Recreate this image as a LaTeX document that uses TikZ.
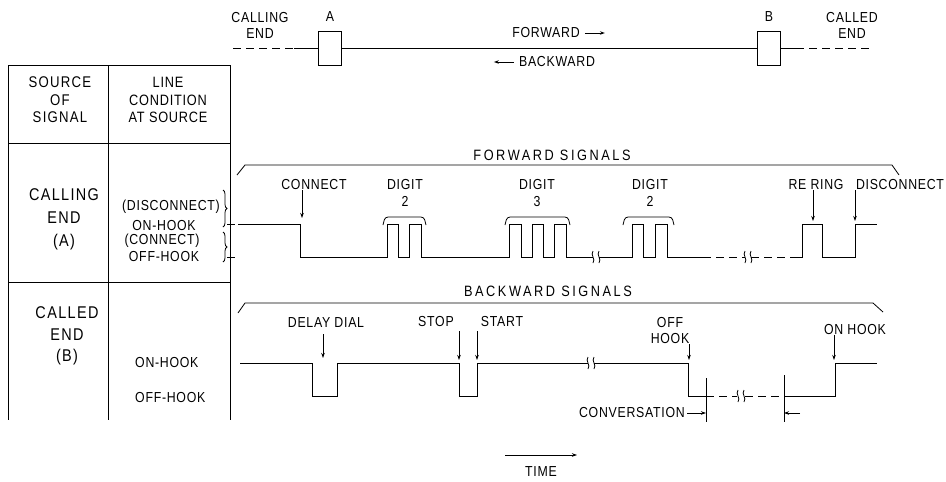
\documentclass[tikz,border=0pt]{standalone}
\usepackage{fontspec}
\setmainfont{Liberation Sans}[LetterSpace=5, FakeStretch=0.85]
\newfontfamily\widefont{Liberation Sans}[LetterSpace=17, FakeStretch=0.85]
\newfontfamily\bigfont{Liberation Sans}[LetterSpace=8, FakeStretch=0.85]
\usetikzlibrary{arrows.meta,decorations.pathreplacing}
\begin{document}
\begin{tikzpicture}[x=1pt,y=-1pt,
  lbl/.style={font=\fontsize{14.5}{16}\selectfont, inner sep=0pt, align=center},
  hdr/.style={font=\widefont\fontsize{15}{16}\selectfont, inner sep=0pt},
  thin/.style={line width=0.8pt},
  wave/.style={line width=1pt},
  arr/.style={-{Stealth[length=5pt,width=3.5pt]}, line width=0.8pt},
  dsh/.style={line width=1pt, dash pattern=on 8pt off 5pt},
  brk/.pic={\draw[line width=0.8pt] (-3,-6) .. controls (-6,-2) and (0,2) .. (-3,6);
            \draw[line width=0.8pt] (3,-6) .. controls (0,-2) and (6,2) .. (3,6);},
]
\useasboundingbox (0,0) rectangle (946,482);

% ---------- top line diagram ----------
\node[lbl] (calling) at (260,25) {CALLING\\END};
\node[lbl] (Alab) at (330,17) {A};
\node[draw, thin, minimum width=23pt, minimum height=34pt, inner sep=0pt] (boxA) at (330,48) {};
\node[lbl] (Blab) at (769,17) {B};
\node[draw, thin, minimum width=23pt, minimum height=34pt, inner sep=0pt] (boxB) at (769,48) {};
\node[lbl] (called) at (852,25) {CALLED\\END};
\coordinate (ldash) at (233,48);
\coordinate (lsol) at (294,48);
\coordinate (rsol) at (796,48);
\coordinate (rdash) at (872,48);
\draw[dsh] (ldash) -- (lsol);
\draw[wave] (lsol) -- (boxA.west);
\draw[wave] (boxA.east) -- (boxB.west);
\draw[wave] (boxB.east) -- (rsol);
\draw[dsh] (rsol) -- (rdash);
\node[lbl] (fwd) at (546,33) {FORWARD};
\draw[arr] ([xshift=5pt]fwd.east) -- ([xshift=25pt]fwd.east);
\node[lbl] (bwd) at (557,62) {BACKWARD};
\draw[arr] ([xshift=-5pt]bwd.west) -- ([xshift=-25pt]bwd.west);

% ---------- table ----------
\draw[thin] (8,65) -- (230,65);
\draw[thin] (8,143) -- (230,143);
\draw[thin] (8,282) -- (230,282);
\draw[thin] (8,65) -- (8,420);
\draw[thin] (108,65) -- (108,420);
\draw[thin] (230,65) -- (230,420);
\node[lbl, font=\bigfont\fontsize{15.5}{17.5}\selectfont] (src) at (60,100) {SOURCE\\OF\\SIGNAL};
\node[lbl, font=\fontsize{15}{17.5}\selectfont] (cond) at (168,100) {LINE\\CONDITION\\AT SOURCE};
\node[lbl, font=\bigfont\fontsize{17}{23}\selectfont] (callA) at (64,219) {CALLING\\END\\(A)};
\node[lbl] (disc) at (171,207) {(DISCONNECT)};
\node[lbl] (onA) at (164,226) {ON-HOOK};
\node[lbl] (connA) at (162,241) {(CONNECT)};
\node[lbl] (offA) at (164,257) {OFF-HOOK};
\draw[thin, decorate, decoration={brace, amplitude=4pt}] (223,190) -- (223,227);
\draw[thin, decorate, decoration={brace, amplitude=4pt}] (223,232) -- (223,262);
\draw[thin] (227,224) -- (235,224);
\draw[thin] (227,257) -- (235,257);
\node[lbl, font=\bigfont\fontsize{17}{21.5}\selectfont] (callB) at (67,336) {CALLED\\END\\(B)};
\node[lbl, anchor=west] (onB) at (135,363) {ON-HOOK};
\node[lbl, anchor=west] (offB) at (135,398) {OFF-HOOK};

% ---------- forward signals ----------
\node[hdr] (fs) at (552,155) {FORWARD SIGNALS};
\draw[thin] (237,175) -- (245,165) -- (892,165) -- (899,175);
\draw[wave] (238,224) -- (300,224) -- (300,257) -- (387,257) -- (387,224) -- (398,224)
  -- (398,257) -- (409,257) -- (409,224) -- (421,224) -- (421,257) -- (509,257)
  -- (509,224) -- (521,224) -- (521,257) -- (532,257) -- (532,224) -- (543,224)
  -- (543,257) -- (554,257) -- (554,224) -- (566,224) -- (566,257) -- (593,257);
\pic at (596,257) {brk};
\draw[wave] (599,257) -- (632,257) -- (632,224) -- (643,224) -- (643,257) -- (655,257)
  -- (655,224) -- (667,224) -- (667,257) -- (703,257);
\draw[dsh] (703,257) -- (745,257);
\pic at (748,257) {brk};
\draw[dsh] (751,257) -- (790,257);
\draw[wave] (790,257) -- (802,257) -- (802,224) -- (822,224) -- (822,257) -- (855,257)
  -- (855,224) -- (877,224);
% digit braces
\draw[thin, rounded corners=3pt] (383,225) -- (385,217) -- (424,217) -- (426,225);
\draw[thin, rounded corners=3pt] (505,225) -- (507,217) -- (568,217) -- (570,225);
\draw[thin, rounded corners=3pt] (623,225) -- (625,217) -- (672,217) -- (674,225);
% labels
\node[lbl] (connect) at (314,185) {CONNECT};
\coordinate (cConn) at (302,218);
\draw[arr] (connect.south -| cConn) -- (cConn);
\node[lbl, font=\fontsize{14.5}{17}\selectfont] (dig1) at (405,193) {DIGIT\\2};
\node[lbl, font=\fontsize{14.5}{17}\selectfont] (dig2) at (537,193) {DIGIT\\3};
\node[lbl, font=\fontsize{14.5}{17}\selectfont] (dig3) at (650,193) {DIGIT\\2};
\node[lbl] (rering) at (816,185) {RE RING};
\coordinate (cRer) at (813,221);
\draw[arr] (rering.south -| cRer) -- (cRer);
\node[lbl] (disconn) at (900,185) {DISCONNECT};
\coordinate (cDis) at (855,221);
\draw[arr] (disconn.south -| cDis) -- (cDis);

% ---------- backward signals ----------
\node[hdr] (bs) at (548,291) {BACKWARD SIGNALS};
\draw[thin] (238,313) -- (245,303) -- (873,303) -- (883,312);
\draw[wave] (240,363) -- (312,363) -- (312,396) -- (337,396) -- (337,363) -- (459,363)
  -- (459,396) -- (477,396) -- (477,363) -- (588,363);
\pic at (591,363) {brk};
\draw[wave] (594,363) -- (688,363) -- (688,396) -- (706,396);
\draw[dsh] (706,396) -- (737,396);
\pic at (741,396) {brk};
\draw[dsh] (745,396) -- (784,396);
\draw[wave] (784,396) -- (835,396) -- (835,363) -- (877,363);
\coordinate (v1t) at (706,378);
\coordinate (v1b) at (706,422);
\coordinate (v2t) at (784,375);
\coordinate (v2b) at (784,422);
\draw[thin] (v1t) -- (v1b);
\draw[thin] (v2t) -- (v2b);
\node[lbl, anchor=east] (conv) at (685,413) {CONVERSATION};
\draw[arr] ([xshift=2pt]conv.east) -- (v1b |- conv.east);
\coordinate (cv2) at (800,413);
\draw[arr] (cv2) -- (v2b |- cv2);
% labels
\node[lbl] (delay) at (326,323) {DELAY DIAL};
\coordinate (cDel) at (323,358);
\draw[arr] ([yshift=-6pt]delay.south -| cDel) -- (cDel);
\node[lbl] (stop) at (436,322) {STOP};
\coordinate (cStop) at (459,360);
\draw[arr] ([yshift=-4pt]stop.south -| cStop) -- (cStop);
\node[lbl] (start) at (502,322) {START};
\coordinate (cStart) at (477,360);
\draw[arr] ([yshift=-4pt]start.south -| cStart) -- (cStart);
\node[lbl] (offhook) at (670,331) {OFF\\HOOK};
\coordinate (cOff) at (689,360);
\draw[arr] (offhook.south -| cOff) -- (cOff);
\node[lbl] (onhook) at (855,330) {ON HOOK};
\coordinate (cOn) at (834,360);
\draw[arr] (onhook.south -| cOn) -- (cOn);

% ---------- time ----------
\node[lbl] (time) at (541,472) {TIME};
\coordinate (t0) at (505,455);
\coordinate (t1) at (577,455);
\draw[arr] (t0) -- (t1);
\end{tikzpicture}
\end{document}
